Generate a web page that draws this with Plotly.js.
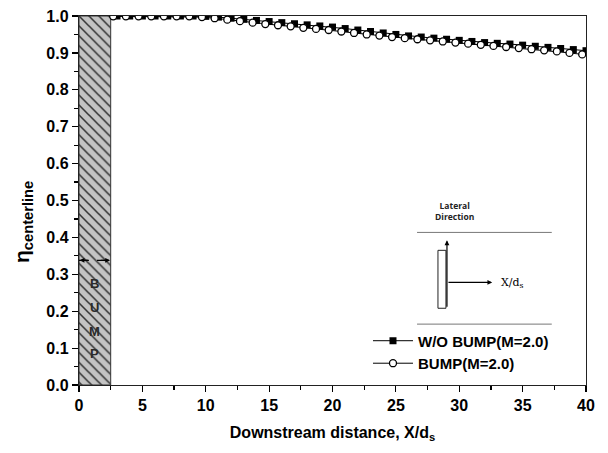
<!DOCTYPE html>
<html>
<head>
<meta charset="utf-8">
<script src="https://cdn.plot.ly/plotly-3.0.1.min.js"></script>
<style>html,body{margin:0;padding:0;background:#fff;}#chart{width:608px;height:453px;}</style>
</head>
<body>
<div id="chart"></div>
<script>
// Centerline mixing efficiency along the downstream distance
var xNoBump = [3,4,5,6,7,8,9,10,11,12,13,14,15,16,17,18,19,20,21,22,23,24,25,26,27,28,29,30,31,32,33,34,35,36,37,38,39,40];
var etaNoBump = [1.0,1.0,1.0,1.0,1.0,1.0,1.0,0.999,0.997,0.994,0.991,0.988,0.985,0.982,0.979,0.976,0.973,0.970,0.966,0.962,0.958,0.954,0.950,0.946,0.943,0.940,0.937,0.934,0.931,0.928,0.926,0.924,0.921,0.918,0.915,0.912,0.909,0.906];
var xBump = [2.7,3.7,4.7,5.7,6.7,7.7,8.7,9.7,10.7,11.7,12.7,13.7,14.7,15.7,16.7,17.7,18.7,19.7,20.7,21.7,22.7,23.7,24.7,25.7,26.7,27.7,28.7,29.7,30.7,31.7,32.7,33.7,34.7,35.7,36.7,37.7,38.7,39.7];
var etaBump = [0.999,0.999,0.999,0.999,0.999,0.999,0.999,0.997,0.994,0.990,0.986,0.982,0.978,0.975,0.972,0.968,0.965,0.962,0.958,0.954,0.950,0.947,0.943,0.940,0.937,0.934,0.931,0.928,0.925,0.922,0.919,0.916,0.913,0.910,0.907,0.904,0.900,0.896];
var seriesNames = ['W/O BUMP(M=2.0)', 'BUMP(M=2.0)'];

// Bump block region
var bumpStart = 0, bumpEnd = 2.5, bumpHeight = 1.0;
var bumpLetters = ['B', 'U', 'M', 'P'];
var bumpLetterY = [0.276, 0.21, 0.146, 0.086];

var FONT = 'Arial, "Liberation Sans", sans-serif';

// plot-area geometry in pixels
var W = 608, H = 453, mL = 79, mR = 22, mT = 16, mB = 68;
var plotH = H - mT - mB, plotW = W - mL - mR;

var traces = [
  {
    type: 'bar',
    x: [(bumpStart + bumpEnd) / 2],
    y: [bumpHeight],
    width: [bumpEnd - bumpStart],
    marker: {
      color: '#c4c4c4',
      line: {color: '#333', width: 1},
      pattern: {shape: '\\', fgcolor: '#333', bgcolor: '#c4c4c4', size: 7, solidity: 0.22}
    },
    showlegend: false,
    hoverinfo: 'skip'
  },
  {
    type: 'scatter',
    mode: 'lines+markers',
    name: seriesNames[0],
    x: xNoBump,
    y: etaNoBump,
    line: {color: '#000', width: 1},
    marker: {symbol: 'square', size: 7, color: '#000'}
  },
  {
    type: 'scatter',
    mode: 'lines+markers',
    name: seriesNames[1],
    x: xBump,
    y: etaBump,
    line: {color: '#000', width: 1},
    marker: {symbol: 'circle', size: 7, color: '#fff', line: {color: '#000', width: 1.3}}
  }
];

var annotations = bumpLetters.map(function (ch, i) {
  return {x: 1.2, y: bumpLetterY[i], xref: 'x', yref: 'y', text: '<b>' + ch + '</b>', showarrow: false,
    font: {family: FONT, size: 13, color: '#2a2a2a'}};
});

// arrow heads on the bump's dashed marker line
annotations.push({x: 0.05, y: 0.338, ax: 0.9, ay: 0.338, xref: 'x', yref: 'y', axref: 'x', ayref: 'y',
  showarrow: true, arrowhead: 2, arrowsize: 0.8, arrowwidth: 1.2, arrowcolor: '#000', text: ''});
annotations.push({x: 2.45, y: 0.338, ax: 1.6, ay: 0.338, xref: 'x', yref: 'y', axref: 'x', ayref: 'y',
  showarrow: true, arrowhead: 2, arrowsize: 0.8, arrowwidth: 1.2, arrowcolor: '#000', text: ''});

// inset sketch: flow direction arrows and labels
annotations.push({x: 29.03, y: 0.392, ax: 29.03, ay: 0.208, xref: 'x', yref: 'y', axref: 'x', ayref: 'y',
  showarrow: true, arrowhead: 2, arrowsize: 0.8, arrowwidth: 1.2, arrowcolor: '#000', text: ''});
annotations.push({x: 32.6, y: 0.278, ax: 29.03, ay: 0.278, xref: 'x', yref: 'y', axref: 'x', ayref: 'y',
  showarrow: true, arrowhead: 2, arrowsize: 0.8, arrowwidth: 1.2, arrowcolor: '#000', text: ''});
annotations.push({x: 33.1, y: 0.276, xref: 'x', yref: 'y', xanchor: 'left', showarrow: false,
  text: 'X/d<sub>s</sub>', font: {family: '"DejaVu Serif", "Liberation Serif", serif', size: 11, color: '#000'}});
annotations.push({x: 29.6, y: 0.472, xref: 'x', yref: 'y', showarrow: false,
  text: '<b>Lateral<br>Direction</b>', font: {family: '"Open Sans", "DejaVu Sans", sans-serif', size: 8.5, color: '#222'}});

// rotated y-axis title
annotations.push({
  xref: 'paper', yref: 'paper',
  x: (23 - mL) / plotW, y: (H - mB - 222) / plotH,
  xanchor: 'center', yanchor: 'middle',
  showarrow: false, textangle: -90,
  text: '<b>η<sub>centerline</sub></b>',
  font: {family: FONT, size: 21, color: '#000'}
});

var shapes = [
  {type: 'line', xref: 'x', yref: 'y', x0: 0, x1: 2.5, y0: 0.338, y1: 0.338, line: {color: '#000', width: 1.2, dash: 'dash'}},
  {type: 'line', xref: 'x', yref: 'y', x0: 26.67, x1: 37.3, y0: 0.4135, y1: 0.4135, line: {color: '#777', width: 1}},
  {type: 'line', xref: 'x', yref: 'y', x0: 26.67, x1: 37.3, y0: 0.165, y1: 0.165, line: {color: '#777', width: 1}},
  {type: 'rect', xref: 'x', yref: 'y', x0: 28.32, x1: 28.95, y0: 0.208, y1: 0.365, line: {color: '#222', width: 1}, fillcolor: '#fff'}
];

var layout = {
  width: W,
  height: H,
  margin: {l: mL, r: mR, t: mT, b: mB},
  paper_bgcolor: '#fff',
  plot_bgcolor: '#fff',
  font: {family: FONT, color: '#000'},
  showlegend: true,
  legend: {
    x: 0.57, y: 0.015, xanchor: 'left', yanchor: 'bottom',
    bgcolor: 'rgba(0,0,0,0)',
    font: {family: FONT, size: 15, color: '#000', weight: 'bold'},
    tracegroupgap: 0, itemwidth: 40
  },
  xaxis: {
    range: [0, 40], tick0: 0, dtick: 5,
    ticks: 'outside', ticklen: 6, tickwidth: 1.2, tickcolor: '#000',
    minor: {dtick: 2.5, ticks: 'outside', ticklen: 4, tickcolor: '#000'},
    showline: true, linecolor: '#222', linewidth: 1.2, mirror: true,
    showgrid: false, zeroline: false,
    tickfont: {family: FONT, size: 16, weight: 'bold'},
    title: {text: 'Downstream distance, X/d<sub>s</sub>', font: {family: FONT, size: 16, weight: 'bold'}, standoff: 13}
  },
  yaxis: {
    range: [0, 1.0], tick0: 0, dtick: 0.1, tickformat: '.1f',
    ticks: 'outside', ticklen: 6, tickwidth: 1.2, tickcolor: '#000',
    minor: {dtick: 0.05, ticks: 'outside', ticklen: 4, tickcolor: '#000'},
    showline: true, linecolor: '#222', linewidth: 1.2, mirror: true,
    showgrid: false, zeroline: false,
    tickfont: {family: FONT, size: 16, weight: 'bold'}
  },
  bargap: 0,
  annotations: annotations,
  shapes: shapes
};

Plotly.newPlot('chart', traces, layout, {displayModeBar: false, staticPlot: true});
</script>
</body>
</html>
